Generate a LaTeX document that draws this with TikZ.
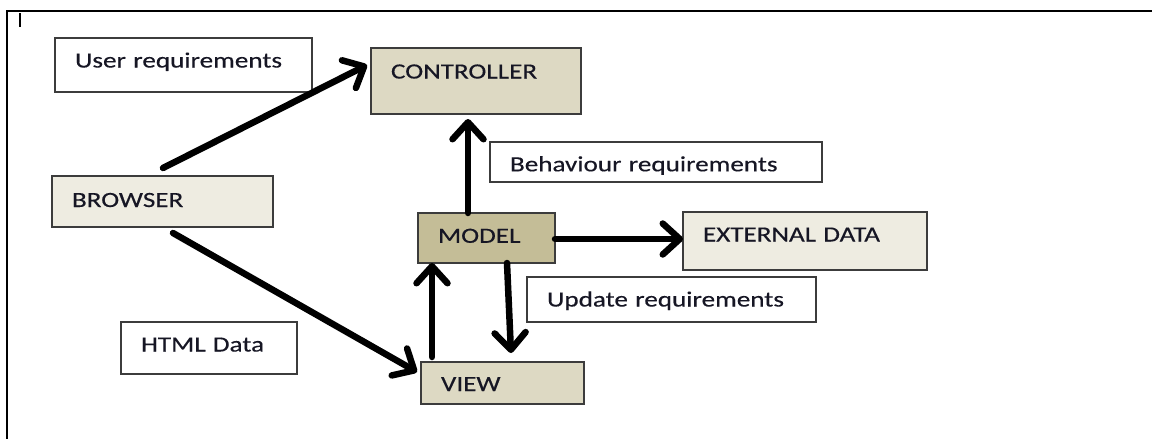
\documentclass[tikz,border=0pt]{standalone}
\usepackage{fontspec}
\setmainfont{Carlito}[FakeStretch=1.25,FakeBold=0.4]
\usetikzlibrary{arrows.meta}

\definecolor{tanlight}{HTML}{EEECE1}
\definecolor{tanmid}{HTML}{DDD9C3}
\definecolor{tandark}{HTML}{C4BD97}
\definecolor{edge}{HTML}{3C3C3C}
\definecolor{ink}{HTML}{161624}

\begin{document}
\begin{tikzpicture}[x=1pt,y=-1pt,
  box/.style={draw=edge, line width=1.5pt, outer sep=0pt, anchor=north west,
    inner xsep=20pt, inner ysep=0pt, align=left,
    text height=14pt, text depth=#1, text=ink,
    font=\fontsize{21.7}{26}\selectfont},
  box/.default=0pt,
  flow/.style={line width=6.5pt, line cap=round,
    -{Straight Barb[length=17pt,width=31pt,round]}}]

\useasboundingbox (0,0) rectangle (1152,439);

% page frame and corner mark
\draw[line width=2.6pt] (7,439) -- (7,11) -- (1152,11);
\draw[line width=2.6pt] (20,13) -- (20,27);

% components
\node[box=9pt, fill=white, minimum width=257pt, minimum height=54pt, text width=217pt]
  (usr) at (55,38) {User requirements};
\node[box=19pt, fill=tanmid, minimum width=210pt, minimum height=66pt, text width=170pt]
  (ctrl) at (371,48) {CONTROLLER};
\node[box, text height=18.6pt, fill=white, minimum width=332pt, minimum height=40pt, text width=292pt]
  (beh) at (490,142) {Behaviour requirements};
\node[box=3pt, fill=tanlight, minimum width=221pt, minimum height=51pt, text width=181pt]
  (brow) at (52,176) {BROWSER};
\node[box=4.4pt, fill=tandark, minimum width=137pt, minimum height=50pt, text width=97pt]
  (model) at (418,213) {MODEL};
\node[box=13pt, fill=tanlight, minimum width=244pt, minimum height=58pt, text width=204pt]
  (ext) at (683,212) {EXTERNAL DATA};
\node[box, fill=white, minimum width=289pt, minimum height=45pt, text width=249pt]
  (upd) at (527,277) {Update requirements};
\node[box=7pt, fill=white, minimum width=176pt, minimum height=52pt, text width=136pt]
  (html) at (121,322) {HTML Data};
\node[box, text height=16pt, fill=tanmid, minimum width=163pt, minimum height=42pt, text width=123pt]
  (view) at (421,362) {VIEW};

% data flow
\draw[flow] ([shift={(111,-8)}]brow.north west) -- ([shift={(-4,17)}]ctrl.north west);
\draw[flow] ([shift={(121,6)}]brow.south west) -- ([shift={(-4,10)}]view.north west);
\draw[flow] ([shift={(50,0)}]model.north west) -- ([shift={(97,5)}]ctrl.south west);
\draw[flow] ([shift={(0,26)}]model.north east) -- ([shift={(0,27)}]ext.north west);
\draw[flow] ([shift={(89,0)}]model.south west) -- ([shift={(90,-9)}]view.north west);
\draw[flow] ([shift={(11,-5)}]view.north west) -- ([shift={(14,0)}]model.south west);
\end{tikzpicture}
\end{document}
